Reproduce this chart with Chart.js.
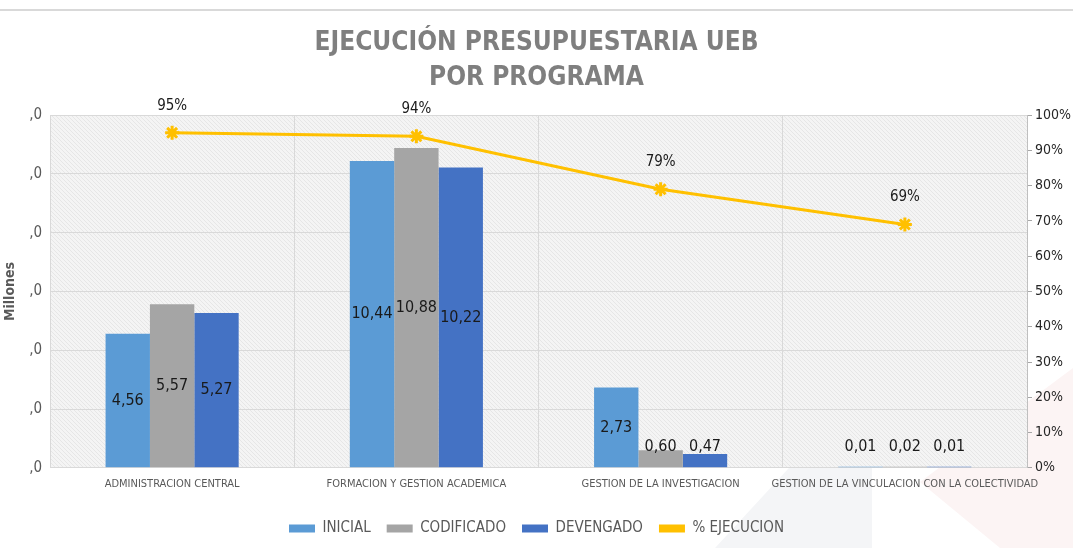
<!DOCTYPE html>
<html lang="es">
<head>
    <meta charset="UTF-8">
    <title>Ejecución presupuestaria UEB por programa</title>
    <script src="https://cdn.jsdelivr.net/npm/chart.js"></script>
    <style>
        html, body { margin: 0; padding: 0; background: #ffffff; }
        .chart-container { width: 1073px; height: 548px; position: relative; }
    </style>
</head>
<body>
    <div class="chart-container">
        <canvas id="ejecucionChart" width="1073" height="548"></canvas>
    </div>

    <script>
        const programas = [
            'ADMINISTRACION CENTRAL',
            'FORMACION Y GESTION ACADEMICA',
            'GESTION DE LA INVESTIGACION',
            'GESTION DE LA VINCULACION CON LA COLECTIVIDAD'
        ];
        const inicial = [4.56, 10.44, 2.73, 0.01];
        const codificado = [5.57, 10.88, 0.60, 0.02];
        const devengado = [5.27, 10.22, 0.47, 0.01];
        const ejecucion = [95, 94, 79, 69];

        const narrow = "'Liberation Sans Narrow', 'Arial Narrow', 'DejaVu Sans Condensed', sans-serif";

        // hatched grey fill behind the plot, like the Excel original
        function hatchPattern(ctx) {
            const p = document.createElement('canvas');
            p.width = 4; p.height = 4;
            const pc = p.getContext('2d');
            pc.fillStyle = '#f4f4f4';
            pc.fillRect(0, 0, 4, 4);
            pc.strokeStyle = '#e6e6e6';
            pc.lineWidth = 1;
            pc.beginPath();
            pc.moveTo(0, 0); pc.lineTo(4, 4);
            pc.stroke();
            return ctx.createPattern(p, 'repeat');
        }

        const fondo = {
            id: 'fondo',
            beforeDraw(chart) {
                const ctx = chart.ctx;
                const a = chart.chartArea;
                ctx.save();
                // faint decorative triangles
                ctx.fillStyle = '#f4f5f7';
                ctx.beginPath();
                ctx.moveTo(872, 378); ctx.lineTo(872, 548); ctx.lineTo(715, 548);
                ctx.closePath(); ctx.fill();
                ctx.fillStyle = '#fcf4f4';
                ctx.beginPath();
                ctx.moveTo(1073, 368); ctx.lineTo(1073, 548); ctx.lineTo(1000, 548); ctx.lineTo(920, 482);
                ctx.closePath(); ctx.fill();
                // top rule
                ctx.strokeStyle = '#d9d9d9';
                ctx.lineWidth = 2;
                ctx.beginPath();
                ctx.moveTo(0, 10); ctx.lineTo(1073, 10);
                ctx.stroke();
                ctx.fillStyle = hatchPattern(ctx);
                ctx.fillRect(a.left, a.top, a.right - a.left, a.bottom - a.top);
                ctx.restore();
            }
        };

        const etiquetas = {
            id: 'etiquetas',
            afterDatasetsDraw(chart) {
                const ctx = chart.ctx;
                ctx.save();
                ctx.textAlign = 'center';
                ctx.textBaseline = 'middle';
                ctx.fillStyle = '#1a1a1a';
                chart.data.datasets.forEach((ds, i) => {
                    const meta = chart.getDatasetMeta(i);
                    meta.data.forEach((el, j) => {
                        const v = ds.data[j];
                        if (ds.type === 'line') {
                            ctx.font = '15px ' + narrow;
                            ctx.fillText(v + '%', el.x, el.y - 27);
                        } else {
                            ctx.font = '16px ' + narrow;
                            const centro = (el.y + el.base) / 2;
                            const y = Math.min(centro, el.base - 20);
                            ctx.fillText(v.toFixed(2).replace('.', ','), el.x, y);
                        }
                    });
                });
                ctx.restore();
            }
        };

        const ctx = document.getElementById('ejecucionChart').getContext('2d');
        new Chart(ctx, {
            data: {
                labels: programas,
                datasets: [
                    {
                        type: 'bar',
                        label: 'INICIAL',
                        data: inicial,
                        backgroundColor: '#5b9bd5',
                        yAxisID: 'y',
                        order: 1
                    },
                    {
                        type: 'bar',
                        label: 'CODIFICADO',
                        data: codificado,
                        backgroundColor: '#a5a5a5',
                        yAxisID: 'y',
                        order: 1
                    },
                    {
                        type: 'bar',
                        label: 'DEVENGADO',
                        data: devengado,
                        backgroundColor: '#4472c4',
                        yAxisID: 'y',
                        order: 1
                    },
                    {
                        type: 'line',
                        label: '% EJECUCION',
                        data: ejecucion,
                        yAxisID: 'y1',
                        borderColor: '#ffc000',
                        backgroundColor: '#ffc000',
                        borderWidth: 3,
                        pointStyle: 'star',
                        pointRadius: 7,
                        pointBorderWidth: 3,
                        order: 0
                    }
                ]
            },
            options: {
                responsive: false,
                animation: false,
                layout: { padding: { top: 14, right: 0, left: 0, bottom: 2 } },
                datasets: {
                    bar: { categoryPercentage: 0.545, barPercentage: 1.0, minBarLength: 1 }
                },
                plugins: {
                    title: {
                        display: true,
                        text: ['EJECUCIÓN PRESUPUESTARIA UEB', 'POR PROGRAMA'],
                        color: '#7f7f7f',
                        font: { family: narrow, size: 26, weight: 'bold', lineHeight: 1.35 },
                        padding: { top: 12, bottom: 19 }
                    },
                    legend: {
                        position: 'bottom',
                        labels: {
                            color: '#595959',
                            font: { family: narrow, size: 15 },
                            boxWidth: 26,
                            boxHeight: 8,
                            padding: 16,
                            sort: (a, b) => a.datasetIndex - b.datasetIndex,
                            generateLabels(chart) {
                                const items = Chart.defaults.plugins.legend.labels.generateLabels(chart);
                                items.forEach(it => { it.lineWidth = 0; });
                                return items;
                            }
                        }
                    },
                    tooltip: { enabled: false }
                },
                scales: {
                    x: {
                        afterFit(scale) { scale.height += 4; },
                        grid: { color: '#d9d9d9', offset: true, drawTicks: false },
                        border: { color: '#d9d9d9' },
                        ticks: {
                            color: '#595959',
                            font: { family: narrow, size: 11 },
                            padding: 10,
                            maxRotation: 0,
                            autoSkip: false
                        }
                    },
                    y: {
                        position: 'left',
                        min: 0,
                        max: 12,
                        afterFit(scale) { scale.width = 50; },
                        ticks: {
                            stepSize: 2,
                            color: '#595959',
                            font: { family: narrow, size: 15 },
                            padding: 8,
                            callback: () => ',0'
                        },
                        grid: { color: '#d9d9d9', drawTicks: false },
                        border: { display: false },
                        title: {
                            display: true,
                            text: 'Millones',
                            color: '#595959',
                            font: { family: narrow, size: 14, weight: 'bold' },
                            padding: 2
                        }
                    },
                    y1: {
                        position: 'right',
                        min: 0,
                        max: 100,
                        afterFit(scale) { scale.width = 46; },
                        ticks: {
                            stepSize: 10,
                            color: '#262626',
                            font: { family: narrow, size: 14 },
                            padding: 3,
                            callback: v => v + '%'
                        },
                        grid: { drawOnChartArea: false, color: '#a6a6a6', tickLength: 5 },
                        border: { color: '#bfbfbf' }
                    }
                }
            },
            plugins: [fondo, etiquetas]
        });
    </script>
</body>
</html>
